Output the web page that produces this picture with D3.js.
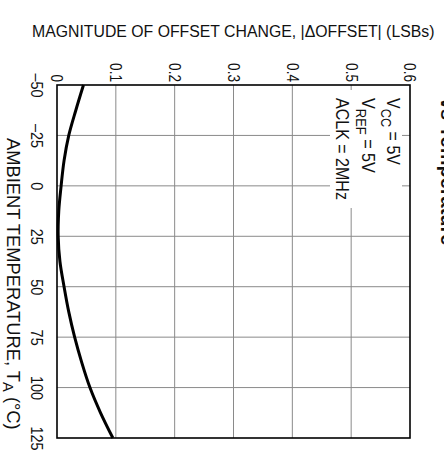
<!DOCTYPE html>
<html>
<head>
<meta charset="utf-8">
<script src="https://cdn.jsdelivr.net/npm/d3@7"></script>
<style>
  html, body { margin: 0; padding: 0; background: #fff; overflow: hidden; }
  svg { display: block; }
  text { font-family: "Liberation Sans Narrow", "Arial Narrow", "Liberation Sans", Arial, sans-serif; fill: #111; }
</style>
</head>
<body>
<svg id="chart" width="444" height="454"></svg>
<script>
// ---- data ----
const temperatures = [-50, -37.5, -25, -12.5, 0, 12.5, 25, 37.5, 50, 62.5, 75, 87.5, 100, 112.5, 125];
const offsetChange = [0.045, 0.032, 0.020, 0.012, 0.007, 0.003, 0.002, 0.005, 0.012, 0.020, 0.030, 0.042, 0.056, 0.074, 0.095];
const valueTicks = [0, 0.1, 0.2, 0.3, 0.4, 0.5, 0.6];
const valueTickLabels = ["0", "0.1", "0.2", "0.3", "0.4", "0.5", "0.6"];
const tempTicks = [-50, -25, 0, 25, 50, 75, 100, 125];
const tempTickLabels = ["\u201350", "\u201325", "0", "25", "50", "75", "100", "125"];
const conditions = [["V", "CC", " = 5V"], ["V", "REF", " = 5V"], ["ACLK = 2MHz", "", ""]];

const svg = d3.select("#chart");
const L = 57, R = 410, T = 85, B = 438;
const x = d3.scaleLinear().domain([0, 0.6]).range([L, R]);
const y = d3.scaleLinear().domain([-50, 125]).range([T, B]);

// condensed look: scale a text along its own baseline to a fraction of its width (or to a target length)
function condense(sel, factor, target) {
  sel.each(function () {
    const nat = this.getComputedTextLength();
    const f = target ? target / nat : factor;
    const s = d3.select(this);
    const tr = s.attr("transform") || "";
    s.attr("transform", `${tr} scale(${f},1)`);
  });
}

// grid
const grid = svg.append("g").attr("stroke", "#8a8a8a").attr("stroke-width", 1);
grid.selectAll("line.v").data(valueTicks.slice(1, -1)).join("line")
  .attr("x1", d => x(d)).attr("x2", d => x(d)).attr("y1", T).attr("y2", B);
grid.selectAll("line.h").data(tempTicks.slice(1, -1)).join("line")
  .attr("x1", L).attr("x2", R).attr("y1", d => y(d)).attr("y2", d => y(d));

// annotation background (masks grid)
svg.append("rect").attr("x", 330).attr("y", 90).attr("width", 72).attr("height", 118).attr("fill", "#fff");

// curve
const line = d3.line().x(d => x(d[1])).y(d => y(d[0])).curve(d3.curveCatmullRom.alpha(0.5));
svg.append("path").datum(temperatures.map((t, i) => [t, offsetChange[i]]))
  .attr("d", line).attr("fill", "none").attr("stroke", "#000").attr("stroke-width", 3);

// frame
svg.append("rect").attr("x", L).attr("y", T).attr("width", R - L).attr("height", B - T)
  .attr("fill", "none").attr("stroke", "#000").attr("stroke-width", 1.6);

// value axis (top), labels rotated
const ax = svg.append("g").attr("transform", `translate(0,${T})`)
  .call(d3.axisTop(x).tickValues(valueTicks).tickSize(0).tickFormat((d, i) => valueTickLabels[i]));
ax.attr("font-family", null).attr("font-size", null);
ax.select(".domain").remove();
ax.selectAll("text").attr("transform", "rotate(90)").attr("text-anchor", "end")
  .attr("x", -3.8).attr("y", 0).attr("dy", "0.36em")
  .style("font-size", "17px").attr("fill", "#111")
  .call(condense, 0.8);

// temperature axis (left), labels rotated
const ay = svg.append("g").attr("transform", `translate(${L},0)`)
  .call(d3.axisLeft(y).tickValues(tempTicks).tickSize(0).tickFormat((d, i) => tempTickLabels[i]));
ay.attr("font-family", null).attr("font-size", null);
ay.select(".domain").remove();
ay.selectAll("text").attr("transform", "rotate(90)").attr("text-anchor", "middle")
  .attr("x", 0).attr("y", 26).attr("dy", 0)
  .style("font-size", "17px").attr("fill", "#111")
  .call(condense, 0.85);

// axis titles
svg.append("text").attr("transform", "translate(32,37)").style("font-size", "17px")
  .text("MAGNITUDE OF OFFSET CHANGE, |\u0394OFFSET| (LSBs)")
  .call(condense, 1, 403);

const xt = svg.append("text").attr("transform", "translate(7,138) rotate(90)").style("font-size", "17.5px");
xt.append("tspan").text("AMBIENT TEMPERATURE, T");
xt.append("tspan").attr("dy", 4).style("font-size", "14px").text("A");
xt.append("tspan").attr("dy", -4).text(" (\u00B0C)");
xt.call(condense, 1, 292);

// conditions annotation
const ann = svg.append("g").attr("transform", "translate(387,98) rotate(90)");
const annLen = [67, 75, 102];
conditions.forEach((c, i) => {
  const t = ann.append("text").attr("y", [0, 25, 51][i]).style("font-size", "17.5px");
  t.append("tspan").text(c[0]);
  if (c[1]) {
    t.append("tspan").attr("dy", 6).style("font-size", "14px").text(c[1]);
    t.append("tspan").attr("dy", -6).text(c[2]);
  }
  t.call(condense, 1, annLen[i]);
});

// chart title (partially cut at right edge, as in the reference)
svg.append("text").attr("transform", "translate(440.5,98) rotate(90)")
  .style("font-size", "20px").style("font-weight", "bold")
  .style("font-family", "'Liberation Sans', Arial, sans-serif")
  .text("vs Temperature");
</script>
</body>
</html>
